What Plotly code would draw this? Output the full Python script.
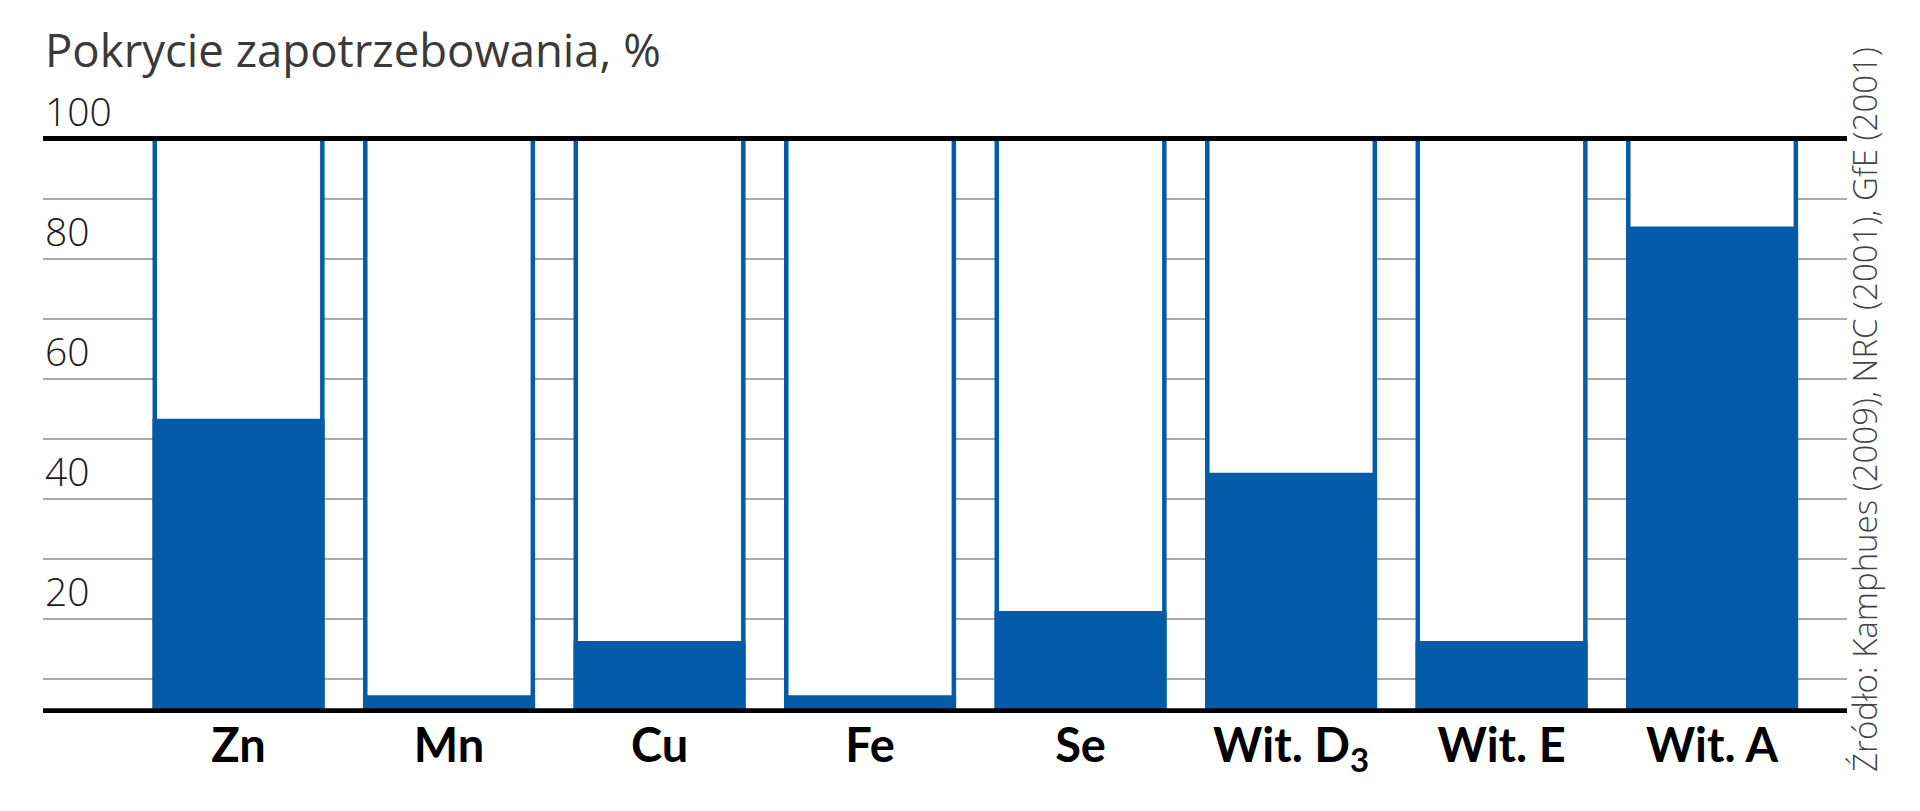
import plotly.graph_objects as go

# ---- data ----
categories = ["Zn", "Mn", "Cu", "Fe", "Se", "Wit. D<sub>3</sub>", "Wit. E", "Wit. A"]
coverage = [53, 7, 16, 7, 21, 44, 16, 85]          # % of requirement covered
requirement = [100, 100, 100, 100, 100, 100, 100, 100]
y_label_values = [20, 40, 60, 80, 100]
y_label_text = ["20", "40", "60", "80", "100"]
grid_values = [10, 20, 30, 40, 50, 60, 70, 80, 90]
title_text = "Pokrycie zapotrzebowania, %"
source_text = "Źródło: Kamphues (2009), NRC (2001), GfE (2001)"

BLUE = "#045BA7"
BASELINE = 4.76
BAR_W = 0.796

# page body has an 8px default margin; the figure is sized to fit inside the viewport
OFF = 8
W, H = 1920 - 2 * OFF, 811 - 2 * OFF
ML = 43 - OFF
MT = 135 - OFF
plot_right = 1847 - OFF
plot_bottom = 713.2 - OFF
MR = W - plot_right
MB = H - plot_bottom
plot_w = W - ML - MR
plot_h = H - MT - MB


def py(p):
    """viewport pixel row -> paper y"""
    return (plot_bottom - (p - OFF)) / plot_h


def px(p):
    """viewport pixel column -> paper x"""
    return ((p - OFF) - ML) / plot_w


fig = go.Figure()
fig.add_trace(go.Bar(
    x=categories, y=requirement, width=BAR_W,
    marker=dict(color="white", line=dict(color=BLUE, width=4.5)),
    hoverinfo="skip", showlegend=False,
))
fig.add_trace(go.Bar(
    x=categories, y=coverage, width=BAR_W,
    marker=dict(color=BLUE, line=dict(color=BLUE, width=4.5)),
    showlegend=False,
))

# black reference lines (100 % and base)
for yv in (100, BASELINE):
    fig.add_shape(type="line", xref="paper", x0=0, x1=1, yref="y", y0=yv, y1=yv,
                  line=dict(color="#000000", width=5), layer="above")

# y labels above gridlines
for v, t in zip(y_label_values, y_label_text):
    fig.add_annotation(xref="paper", x=0, xanchor="left", yref="y", y=v, yanchor="bottom",
                       text=t, showarrow=False,
                       font=dict(family="Open Sans", size=39, color="#1a1a1a", weight=300))

# title
fig.add_annotation(xref="paper", x=0, xanchor="left", yref="paper",
                   y=py(16), yanchor="top",
                   text=title_text, showarrow=False,
                   font=dict(family="Open Sans", size=45.5, color="#3a3a3a", weight=400))

# source (rotated)
fig.add_annotation(xref="paper", x=px(1865), xanchor="center",
                   yref="paper", y=py(410), yanchor="middle",
                   text=source_text, textangle=-90, showarrow=False,
                   font=dict(family="Open Sans", size=33, color="#444444", weight=300))

fig.update_layout(
    width=W, height=H, margin=dict(l=ML, r=MR, t=MT, b=MB, autoexpand=False),
    paper_bgcolor="white", plot_bgcolor="white", barmode="overlay",
    xaxis=dict(type="category", range=[-0.929, 7.641], showgrid=False, showline=False,
               zeroline=False, ticks="", fixedrange=True, ticklabelstandoff=1,
               tickfont=dict(family="Lato", size=47, color="#000000", weight=700)),
    yaxis=dict(range=[4.4, 100.6], tickvals=grid_values, showticklabels=False,
               showgrid=True, gridcolor="#aaaaaa", gridwidth=1.5, zeroline=False,
               showline=False, ticks="", fixedrange=True),
)

fig.write_html("out.html")
